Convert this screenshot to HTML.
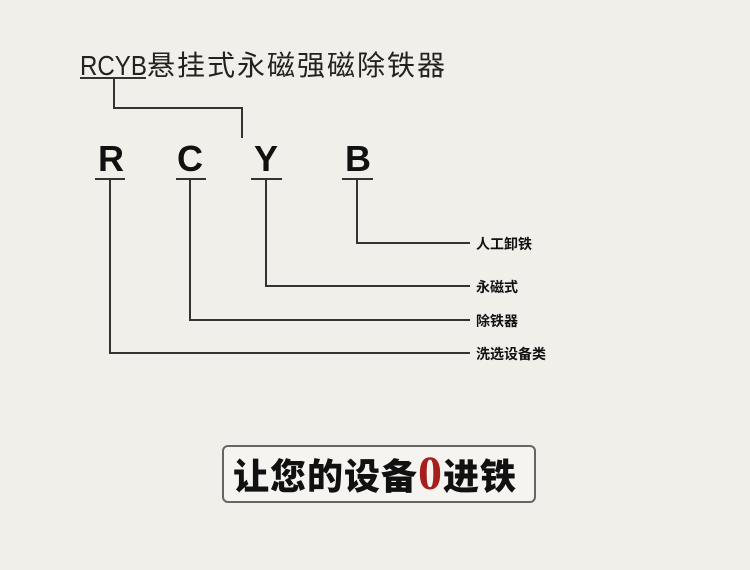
<!DOCTYPE html>
<html><head><meta charset="utf-8"><style>
body{margin:0;width:750px;height:570px;background:#f1efea;position:relative;overflow:hidden;font-family:"Liberation Sans","Noto Sans CJK SC",sans-serif;}
.a{position:absolute;white-space:nowrap;}
</style></head><body>
<div class="a" style="left:80px;top:49px;font-size:28px;color:#222;line-height:34px;letter-spacing:2px;"><span style="display:inline-block;width:67px;letter-spacing:0;"><span style="display:inline-block;transform:scaleX(0.86);transform-origin:left;">RCYB</span></span>悬挂式永磁强磁除铁器</div>
<svg class="a" style="left:0;top:0" width="750" height="570">
<g stroke="#333" stroke-width="2" fill="none">
<line x1="80" y1="78" x2="146" y2="78"/>
<polyline points="114,78 114,108 242,108 242,138"/>
<line x1="95" y1="179" x2="125" y2="179"/><polyline points="110,179 110,353 470,353"/>
<line x1="176" y1="179" x2="206" y2="179"/><polyline points="190,179 190,320 470,320"/>
<line x1="251" y1="179" x2="282" y2="179"/><polyline points="266,179 266,286 470,286"/>
<line x1="342" y1="179" x2="373" y2="179"/><polyline points="357,179 357,243 470,243"/>
</g>
<g font-family="Liberation Sans, sans-serif" font-size="36" font-weight="bold" fill="#111" text-anchor="middle">
<text x="111" y="171">R</text><text x="190" y="171">C</text><text x="266" y="171">Y</text><text x="358" y="171">B</text>
</g>
<rect x="223" y="446" width="312" height="56" rx="5" fill="#f6f4f0" stroke="#666" stroke-width="2"/>
</svg>
<div class="a" style="left:476px;top:234px;font-size:14px;font-weight:bold;color:#111;">人工卸铁</div>
<div class="a" style="left:476px;top:277px;font-size:14px;font-weight:bold;color:#111;">永磁式</div>
<div class="a" style="left:476px;top:311px;font-size:14px;font-weight:bold;color:#111;">除铁器</div>
<div class="a" style="left:476px;top:344px;font-size:14px;font-weight:bold;color:#111;">洗选设备类</div>
<div class="a" style="left:233px;top:451px;font-size:36px;font-weight:900;color:#111;line-height:46px;letter-spacing:1px;">让您的设备<span style="color:#a5201c;font-family:'Liberation Serif',serif;font-size:48px;font-weight:bold;">0</span>进铁</div>
</body></html>
